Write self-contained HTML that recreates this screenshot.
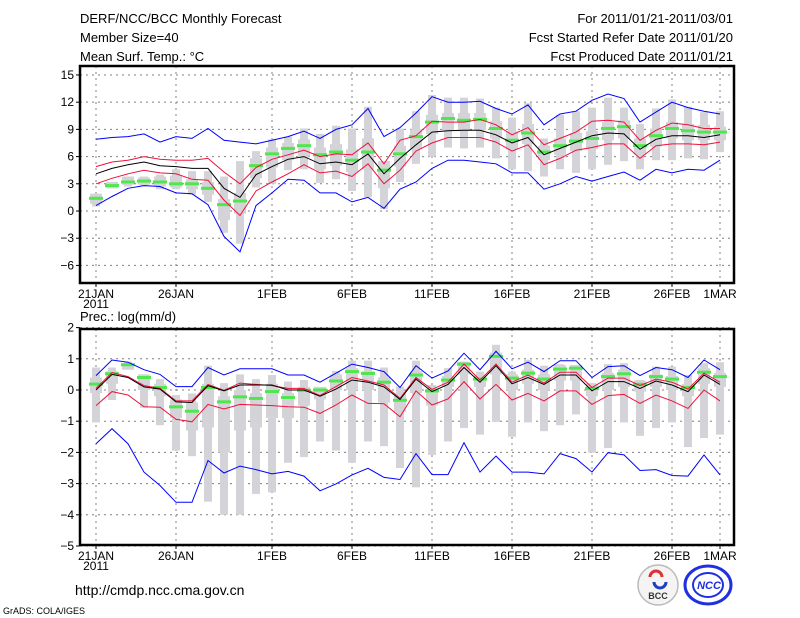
<!DOCTYPE html>
<html><head><meta charset="utf-8"><style>
html,body{margin:0;padding:0;background:#fff}
svg{display:block;font-family:"Liberation Sans",sans-serif}
</style></head><body>
<svg id="c" width="800" height="618" viewBox="0 0 800 618">
<g font-size="13" fill="#000">
<text x="80" y="23">DERF/NCC/BCC Monthly Forecast</text>
<text x="80" y="42">Member Size=40</text>
<text x="80" y="61">Mean Surf. Temp.: °C</text>
<text x="733" y="23" text-anchor="end">For 2011/01/21-2011/03/01</text>
<text x="733" y="42" text-anchor="end">Fcst Started Refer Date 2011/01/20</text>
<text x="733" y="61" text-anchor="end">Fcst Produced Date 2011/01/21</text>
<text x="80" y="321">Prec.: log(mm/d)</text>
</g>
<g id="top"></g>
<g id="bot"></g>
<text x="75" y="595" font-size="14">http://cmdp.ncc.cma.gov.cn</text>
<text x="3" y="614" font-size="9">GrADS: COLA/IGES</text>
<g>
<circle cx="658" cy="585" r="20" fill="#f4f4f4" stroke="#bbb" stroke-width="1.5"/>
<path d="M650 577 a6 6 0 0 1 12 0" fill="none" stroke="#e03030" stroke-width="3"/>
<path d="M654 582 a6 6 0 0 0 12 0" fill="none" stroke="#2040c0" stroke-width="3"/>
<text x="658" y="599" font-size="9" font-weight="bold" text-anchor="middle" fill="#333">BCC</text>
</g>
<g>
<ellipse cx="708" cy="585" rx="23" ry="19" fill="none" stroke="#2030e0" stroke-width="3"/>
<ellipse cx="708" cy="585" rx="15" ry="12" fill="none" stroke="#2030e0" stroke-width="2"/>
<text x="709" y="589" font-size="11" font-weight="bold" font-style="italic" text-anchor="middle" fill="#2030e0">NCC</text>
</g>
</svg>
<script>
const days = 40;
const dateLabels = ["21JAN","26JAN","1FEB","6FEB","11FEB","16FEB","21FEB","26FEB","1MAR"];
const dateIdx = [0,5,11,16,21,26,31,36,39];
const tTicks = [15,12,9,6,3,0,-3,-6];
const pTicks = [2,1,0,-1,-2,-3,-4,-5];

const tMean = [4.1,4.7,5.1,5.4,5.0,4.9,4.7,4.7,2.5,1.5,4.0,4.9,5.7,6.0,5.2,5.4,5.1,6.3,4.1,5.8,7.3,8.7,8.85,8.9,8.9,8.4,7.5,8.1,6.2,6.9,7.6,8.3,8.6,8.5,6.8,7.9,8.3,8.3,8.1,8.4];
const tRedHi = [4.9,5.4,5.6,6.0,5.7,5.6,5.6,5.8,4.3,3.0,4.8,5.7,6.2,6.7,6.0,6.3,6.2,7.5,5.2,7.8,8.3,9.9,9.8,9.8,10.1,9.5,8.4,9.2,7.3,8.0,8.7,9.9,10.0,9.8,7.8,8.9,9.7,9.5,9.1,9.1];
const tRedLo = [3.0,3.6,4.1,4.5,4.2,4.1,3.5,3.4,1.2,-0.5,2.2,3.2,4.1,5.1,4.2,4.4,3.8,5.2,3.0,4.5,6.6,7.5,8.1,8.1,8.1,7.6,6.6,7.3,5.1,5.8,6.7,7.0,7.4,7.4,5.8,7.2,7.4,7.4,7.3,7.6];
const tBlueHi = [7.9,8.1,8.2,8.5,7.6,8.2,8.0,9.1,7.8,7.6,7.4,7.8,8.2,8.8,8.0,9.0,9.5,11.3,8.2,9.2,10.8,12.6,12.0,12.0,12.1,11.3,10.7,11.7,9.5,10.7,11.0,12.2,12.9,12.4,9.8,10.9,12.0,11.4,11.0,10.7];
const tBlueLo = [0.6,1.6,2.5,2.8,2.7,2.0,1.9,0.7,-2.8,-4.5,0.6,2.0,3.5,3.4,2.0,2.0,1.0,1.5,0.3,2.4,3.2,4.7,5.6,5.6,5.4,5.2,4.2,4.2,2.4,3.0,3.8,3.3,3.8,4.3,3.4,4.6,4.2,4.6,4.5,5.6];
const tMedian = [1.4,2.8,3.2,3.3,3.2,3.0,3.0,2.5,0.7,1.1,5.0,6.3,6.9,7.2,6.2,6.5,5.6,6.5,4.5,6.3,8.2,9.8,10.2,10.0,10.1,9.1,7.8,8.6,6.5,7.2,7.7,8.0,9.1,9.3,7.2,8.3,9.1,8.85,8.7,8.7];
const tMax = [1.9,3.2,3.8,3.8,4.0,4.6,4.4,4.4,3.8,5.5,6.6,7.9,8.2,9.1,8.5,9.4,9.1,11.5,4.9,9.1,11.0,12.8,12.5,12.5,12.4,11.4,10.3,11.9,8.0,10.6,11.0,11.4,12.5,11.4,9.6,11.3,12.3,11.5,10.9,11.0];
const tMin = [0.5,2.5,2.7,2.7,2.4,2.4,1.8,1.0,-2.4,-3.6,2.6,3.0,4.5,4.6,3.1,3.5,2.2,1.5,0.2,3.2,5.2,6.0,7.0,6.9,7.0,5.8,4.6,4.4,3.8,4.6,4.2,4.6,5.1,5.5,4.6,5.6,5.6,5.8,5.7,6.5];
const tQ3 = [1.9,3.2,3.8,3.7,3.8,3.9,3.5,3.2,1.3,2.0,5.8,7.0,7.5,7.9,7.0,7.4,6.8,8.0,5.5,7.2,9.0,10.6,10.8,10.8,10.8,9.9,8.8,9.6,7.2,8.0,8.6,8.8,9.8,10.0,8.0,9.1,9.8,9.6,9.5,9.3];
const tQ1 = [0.8,2.5,2.9,2.9,2.7,2.6,2.4,1.8,-1.0,-0.3,3.6,4.8,5.6,6.0,4.6,5.0,4.3,4.6,2.5,4.9,6.8,8.5,8.9,8.8,8.9,8.0,6.8,7.4,5.6,6.2,6.6,6.8,7.8,8.0,6.2,7.1,8.0,7.8,7.8,7.8];

const pMean = [0.0,0.5,0.4,0.1,0.03,-0.38,-0.4,0.14,-0.03,0.16,0.16,0.16,0.0,0.0,-0.2,0.03,0.32,0.25,0.1,-0.3,0.35,-0.05,0.18,0.72,0.25,0.78,0.2,0.4,0.18,0.48,0.48,-0.03,0.27,0.27,0.05,0.29,0.16,-0.05,0.48,0.18];
const pRedHi = [0.05,0.56,0.43,0.14,0.05,-0.35,-0.35,0.18,-0.01,0.22,0.18,0.14,0.05,0.05,-0.18,0.11,0.4,0.29,0.16,-0.27,0.4,0.02,0.25,0.83,0.32,0.83,0.25,0.48,0.22,0.57,0.57,0.08,0.38,0.38,0.14,0.35,0.25,0.03,0.54,0.25];
const pRedLo = [-0.5,-0.05,-0.16,-0.54,-0.55,-0.94,-1.02,-0.46,-0.61,-0.46,-0.48,-0.5,-0.54,-0.55,-0.75,-0.48,-0.16,-0.43,-0.44,-0.86,-0.03,-0.48,-0.29,0.27,-0.29,0.18,-0.32,-0.11,-0.35,-0.03,-0.03,-0.46,-0.18,-0.14,-0.43,-0.16,-0.35,-0.59,0.0,-0.35];
const pBlueHi = [0.46,0.96,0.89,0.65,0.5,0.11,0.11,0.72,0.48,0.68,0.68,0.68,0.48,0.48,0.25,0.54,0.83,0.72,0.59,0.08,0.78,0.38,0.61,1.18,0.65,1.24,0.68,0.89,0.59,0.94,0.94,0.4,0.75,0.78,0.46,0.72,0.65,0.4,0.96,0.65];
const pBlueLo = [-1.72,-1.24,-1.72,-2.63,-3.06,-3.6,-3.6,-2.26,-2.66,-2.44,-2.55,-2.69,-2.61,-2.76,-3.23,-3.01,-2.72,-2.51,-2.8,-2.87,-2.04,-2.71,-2.71,-1.69,-2.63,-2.12,-2.63,-2.63,-2.69,-2.04,-2.2,-2.63,-2.01,-2.08,-2.58,-2.55,-2.74,-2.76,-2.08,-2.72];
const pMedian = [0.19,0.52,0.81,0.4,0.08,-0.54,-0.68,0.08,-0.38,-0.22,-0.27,-0.05,-0.24,-0.01,0.0,0.29,0.59,0.53,0.25,-0.33,0.48,-0.03,0.32,0.83,0.35,1.08,0.38,0.54,0.35,0.67,0.7,0.05,0.43,0.52,0.18,0.43,0.35,0.08,0.57,0.43];
const pMax = [0.72,0.72,0.91,0.5,0.35,-0.16,-0.11,0.78,0.22,0.5,0.35,0.48,0.27,0.32,0.05,0.61,0.94,0.94,0.72,0.11,0.94,0.16,0.7,0.91,0.59,1.45,0.59,0.97,0.78,0.83,0.78,0.22,0.83,0.86,0.32,0.75,0.75,0.48,0.86,0.89];
const pMin = [-1.04,-0.32,0.7,-0.57,-1.13,-1.94,-2.12,-3.58,-4.0,-4.0,-3.33,-3.28,-2.33,-2.15,-1.65,-1.94,-2.33,-1.65,-1.8,-2.5,-3.12,-2.08,-1.65,-1.22,-1.43,-1.02,-1.5,-1.04,-1.32,-1.13,-0.78,-2.01,-1.86,-1.04,-1.47,-1.22,-1.04,-1.83,-1.54,-1.43];
const pQ3 = [0.4,0.6,0.85,0.5,0.2,-0.3,-0.4,0.2,-0.2,0.0,-0.1,0.2,-0.1,0.1,0.1,0.5,0.7,0.6,0.4,-0.1,0.6,0.05,0.45,0.9,0.45,1.2,0.5,0.65,0.5,0.8,0.8,0.2,0.55,0.65,0.3,0.5,0.45,0.2,0.7,0.55];
const pQ1 = [-0.1,0.2,0.65,0.0,-0.2,-0.9,-1.3,-1.2,-2.0,-1.3,-1.2,-0.9,-0.9,-0.5,-0.3,0.0,0.0,0.0,-0.4,-0.7,-0.1,-0.5,0.1,0.5,0.1,0.5,0.0,0.2,0.0,0.3,0.3,-0.2,0.0,0.1,-0.05,0.1,0.0,-0.2,0.2,0.1];

const NS='http://www.w3.org/2000/svg';
const X0=80, X1=734;
function xS(i){return 96 + i*(720-96)/(days-1);}
function mk(tag,attrs,parent){const e=document.createElementNS(NS,tag);for(const k in attrs)e.setAttribute(k,attrs[k]);parent.appendChild(e);return e;}

function panel(g, yS, Y0, Y1, ticks, mn, mx, q1, q3, med, bHi, rHi, mean, rLo, bLo, prefix){
  // grid
  ticks.forEach(t=>{
    const y=yS(t);
    const l=mk('line',{x1:X0,x2:X1,y1:y,y2:y,stroke:'#808080','stroke-width':1,'stroke-dasharray':'2,4'},g);
    
    
    const tk=mk('line',{x1:X0-4,x2:X0,y1:y,y2:y,stroke:'#000','stroke-width':1},g);
    
    
    const tx=mk('text',{x:X0-6,y:y+4,'font-size':12,'text-anchor':'end'},g);
    tx.textContent = String(t).replace('-','\u2212');
    
    
  });
  dateIdx.forEach((d,k)=>{
    const x=xS(d);
    const l=mk('line',{x1:x,x2:x,y1:Y0,y2:Y1,stroke:'#808080','stroke-width':1,'stroke-dasharray':'2,4'},g);
    
    
    const tk=mk('line',{x1:x,x2:x,y1:Y1,y2:Y1+4,stroke:'#000','stroke-width':1},g);
    
    
    const tx=mk('text',{x:x,y:Y1+15,'font-size':12,'text-anchor':'middle'},g);
    tx.textContent = dateLabels[k];
    
    
  });
  const yr=mk('text',{x:xS(0),y:Y1+25,'font-size':12,'text-anchor':'middle'},g);
  yr.textContent='2011';
  
  
  // bars
  for(let i=0;i<days;i++){
    const x=xS(i);
    const r=mk('rect',{x:x-4,y:yS(mx[i]),width:8,height:Math.max(1,yS(mn[i])-yS(mx[i])),fill:'#d3d3d8'},g);
    
    
    const b=mk('rect',{x:x-6,y:yS(q3[i]),width:12,height:Math.max(1,yS(q1[i])-yS(q3[i])),fill:'#d3d3d8'},g);
    
    
  }
  for(let i=0;i<days;i++){
    const m=mk('rect',{x:xS(i)-7,y:yS(med[i])-1.5,width:14,height:3,fill:'#4ee84e'},g);
    
    
  }
  const lines=[[bHi,'#0000ff','blue-upper'],[bLo,'#0000ff','blue-lower'],[rHi,'#f0103c','red-upper'],[rLo,'#f0103c','red-lower'],[mean,'#000','ensemble-mean']];
  lines.forEach(([arr,col,nm])=>{
    const pts=arr.map((v,i)=>xS(i).toFixed(1)+','+yS(v).toFixed(1)).join(' ');
    const p=mk('polyline',{points:pts,fill:'none',stroke:col,'stroke-width':1},g);
    
    
  });
  const f=mk('rect',{x:X0,y:Y0,width:X1-X0,height:Y1-Y0,fill:'none',stroke:'#000','stroke-width':2.5},g);
  
  
}
const yT=v=>211 - v*9.07;
const yP=v=>390 - v*31.2;
panel(document.getElementById('top'), yT, 66, 283, tTicks, tMin, tMax, tQ1, tQ3, tMedian, tBlueHi, tRedHi, tMean, tRedLo, tBlueLo, 'temp');
panel(document.getElementById('bot'), yP, 329, 545, pTicks, pMin, pMax, pQ1, pQ3, pMedian, pBlueHi, pRedHi, pMean, pRedLo, pBlueLo, 'precip');
document.getElementById('top');
document.getElementById('top');
document.getElementById('bot');
document.getElementById('bot');
</script>
</body></html>
